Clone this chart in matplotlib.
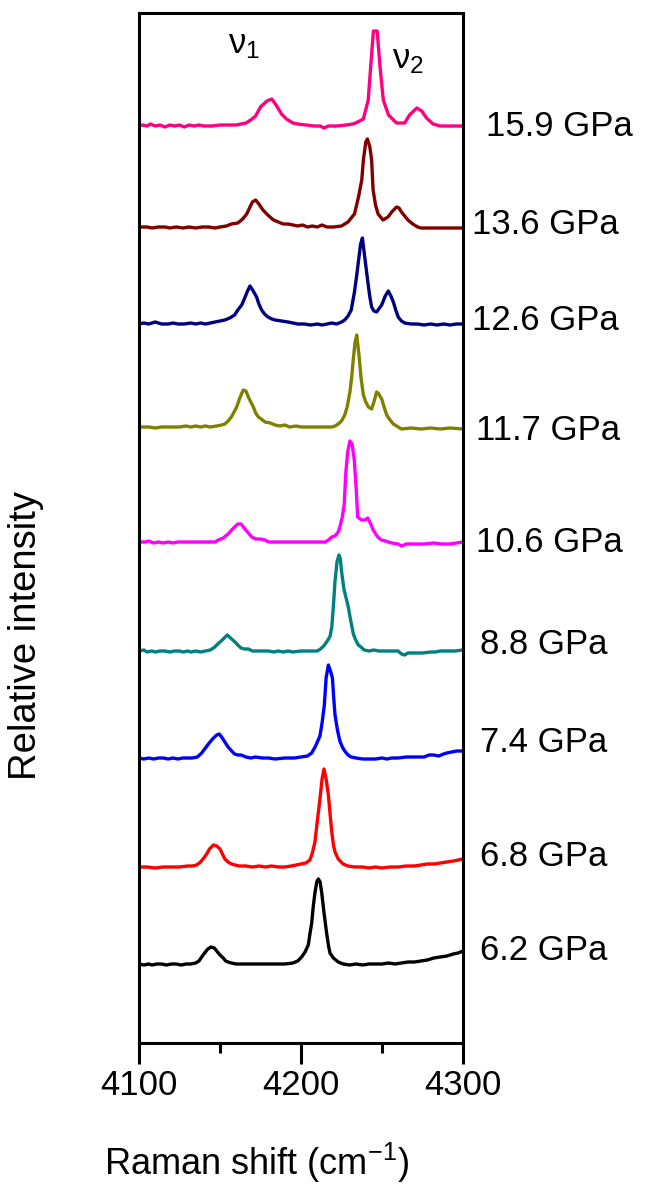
import matplotlib.pyplot as plt

plt.rcParams['font.family'] = ['Liberation Sans', 'DejaVu Sans']
plt.rcParams['mathtext.fontset'] = 'custom'
plt.rcParams['mathtext.rm'] = 'Liberation Sans'
plt.rcParams['mathtext.it'] = 'Liberation Sans:italic'
plt.rcParams['mathtext.default'] = 'regular'

# spectra: (Raman shift cm-1, intensity above the trace's own baseline)
s159 = [(4100, 0), (4102, 1), (4105, 0), (4107, 2), (4110, 0), (4113, 1), (4116, -1), (4119, 1),
        (4122, 0), (4125, 1), (4128, -1), (4131, 1), (4134, 0), (4137, 1), (4140, 0), (4145, 0),
        (4150, 1), (4155, 1), (4160, 1), (4163, 2), (4166, 3), (4169, 6), (4172, 10), (4175, 19),
        (4179, 25), (4182, 27), (4185, 20), (4188, 12), (4191, 7), (4195, 3), (4198, 2), (4203, 1),
        (4208, 0), (4212, 0), (4214, -2), (4217, 0), (4222, 0), (4228, 1), (4232, 2), (4235, 4),
        (4238.5, 7), (4241.5, 26), (4243, 59), (4244.7, 95), (4247, 95), (4248.8, 59), (4250.8, 26),
        (4254, 11), (4259, 3), (4264, 3), (4267, 11), (4271.5, 18), (4274.5, 15), (4277.5, 8),
        (4281.5, 2), (4286, 0), (4292, 0), (4300, 0)]

s136 = [(4100, 0), (4105, 0), (4108, -1), (4112, 0), (4116, 0), (4119, -1), (4123, 0), (4127, -1),
        (4131, 0), (4135, -1), (4139, 0), (4143, 0), (4147, -1), (4150, 0), (4154, 1), (4157, 3),
        (4161, 4), (4164, 8), (4166.5, 13), (4168.5, 20), (4170, 25), (4172, 27), (4174, 23),
        (4176.5, 17), (4179.5, 12), (4183, 7), (4186, 5), (4189, 3), (4192, 3), (4195, 2), (4198, 1),
        (4201, 2), (4204, 0), (4207, 1), (4210, 0), (4213, 2), (4216, 0), (4220, 0), (4225, 1),
        (4229, 5), (4233, 13), (4235.5, 30), (4237.5, 47), (4238.5, 67), (4240, 85), (4241, 88),
        (4242.5, 80), (4243.6, 67), (4244.5, 37), (4246, 22), (4247.6, 13), (4250.6, 7), (4253.7, 10),
        (4256, 15), (4259, 20), (4260.5, 19), (4262, 15), (4264, 11), (4266, 7), (4269, 3), (4272, 0),
        (4274, -1), (4280, -1), (4290, -1), (4300, -1)]

s126 = [(4100, 0), (4103, 1), (4106, 0), (4110, 2), (4114, 0), (4118, 0), (4121, 1), (4124, 0),
        (4128, 0), (4132, 1), (4135, 0), (4138, 1), (4141, 0), (4144, 1), (4147, 2), (4150, 3),
        (4153, 4), (4156, 6), (4159, 9), (4161, 14), (4163.4, 19), (4165, 25), (4167, 33), (4168.5, 38),
        (4170.5, 33), (4172.6, 27), (4174, 20), (4175.7, 14), (4177.5, 10), (4179.6, 7), (4182, 5),
        (4184, 4), (4188, 3), (4192, 2), (4195, 1), (4198, 0), (4202, 0), (4206, -1), (4210, 0),
        (4213, -1), (4216, 0), (4219, 1), (4222, 0), (4225, 2), (4227, 4), (4229, 8), (4231, 14),
        (4233, 32), (4234.5, 50), (4235.4, 62), (4236.8, 80), (4237.9, 86), (4239.5, 65), (4240.5, 52),
        (4241.5, 39), (4242.5, 27), (4243.6, 17), (4245, 13), (4246.7, 12), (4248, 15), (4249.8, 19),
        (4252, 28), (4253.9, 33), (4255.5, 28), (4257, 22), (4258.5, 14), (4260, 7), (4262, 3),
        (4264, 1), (4268, 0), (4272, 0), (4276, -1), (4280, 0), (4284, -1), (4288, 0), (4292, -1),
        (4296, 0), (4300, 0)]

s117 = [(4100, 0), (4106, 0), (4110, -1), (4114, 0), (4120, 0), (4125, 0), (4129, 1), (4132, 0),
        (4135, 1), (4138, 0), (4141, 1), (4144, 0), (4148, 1), (4151, 2), (4153, 3), (4155, 6),
        (4157, 10), (4159, 16), (4160.3, 20), (4162, 28), (4163.5, 34), (4164.4, 37), (4166, 36),
        (4167.5, 30), (4169, 25), (4170.6, 20), (4172, 14), (4173.7, 10), (4175.5, 8), (4177.8, 5),
        (4181, 4), (4184, 2), (4187, 1), (4190, 2), (4193, 0), (4197, 1), (4200, 0), (4205, 0),
        (4210, 0), (4215, 0), (4219, 0), (4221, 1), (4223, 3), (4225, 6), (4227, 12), (4228.5, 20),
        (4230.2, 35), (4231.3, 50), (4232.3, 68), (4233.4, 85), (4234.4, 92), (4235.8, 72), (4237, 50),
        (4238.5, 32), (4240, 25), (4241.6, 20), (4243.6, 18), (4245, 25), (4246.7, 35), (4248, 33),
        (4249.8, 28), (4251.3, 20), (4252.9, 12), (4255, 7), (4257, 3), (4260, 0), (4262, -2),
        (4268, -1), (4274, -2), (4280, -1), (4286, -2), (4292, -1), (4300, -2)]

s106 = [(4100, 0), (4104, 0), (4106, 1), (4109, -1), (4112, 0), (4115, -1), (4118, 0), (4121, -1),
        (4124, 0), (4128, 0), (4135, 0), (4142, 0), (4147, 0), (4149, 2), (4152, 4), (4155, 8),
        (4157.2, 12), (4159, 15), (4161, 18), (4163, 18), (4165.4, 13), (4167, 10), (4169.6, 5),
        (4172, 3), (4175, 3), (4177.8, 2), (4180, 0), (4186, 0), (4195, 0), (4205, 0), (4212, 0),
        (4215, 0), (4217, 2), (4219, 5), (4221, 6), (4223, 10), (4224, 15), (4225.5, 25), (4226.7, 38),
        (4227.6, 68), (4228.8, 90), (4230.2, 101), (4231.5, 98), (4232.9, 82), (4234, 55), (4235, 25),
        (4237.4, 22), (4239.5, 22), (4241.2, 24), (4242.5, 20), (4244.6, 12), (4246.5, 7), (4248, 4),
        (4249.8, 2), (4252, 1), (4256, -1), (4260, -2), (4262, -4), (4265, -2), (4270, -2), (4276, -2),
        (4282, -1), (4287, -2), (4292, -2), (4296, -1), (4300, 0)]

s88 = [(4100, 0), (4103, 1), (4105, -1), (4108, 0), (4110, -1), (4113, 0), (4116, 0), (4119, -1),
       (4122, 0), (4125, 0), (4127, -1), (4130, 0), (4132, -1), (4135, 0), (4138, -1), (4141, 0),
       (4144, 1), (4146, 3), (4148, 6), (4150, 9), (4152, 12), (4154.5, 16), (4156.5, 13), (4159.3, 9),
       (4161, 6), (4163, 3), (4165, 2), (4167.5, 2), (4170, 0), (4175, 0), (4180, 0), (4183, -1),
       (4186, 0), (4189, -1), (4192, 0), (4195, -1), (4200, 0), (4205, 0), (4210, 0), (4212, 2),
       (4214, 5), (4215.8, 9), (4217, 12), (4218, 15), (4219, 24), (4220, 45), (4221, 70), (4222.3, 90),
       (4223.5, 96), (4224.3, 92), (4225, 80), (4226.5, 62), (4228, 52), (4229.2, 44), (4230.5, 32),
       (4232.3, 17), (4233.5, 12), (4235.4, 6), (4237, 4), (4239, 1), (4242, 0), (4245, 1), (4248, 0),
       (4252, 0), (4256, 0), (4260, 0), (4262, -3), (4264, -4), (4266, -2), (4270, -2), (4275, -2),
       (4280, -1), (4283, -1), (4286, 0), (4290, 0), (4295, 0), (4300, 1)]

s74 = [(4100, 0), (4103, -1), (4106, 0), (4109, -1), (4112, 0), (4115, 0), (4118, -1), (4121, 0),
       (4124, -1), (4127, 0), (4130, 0), (4133, 0), (4136, 1), (4138.7, 5), (4141, 10), (4143.8, 16),
       (4146, 20), (4148, 23), (4149.5, 24), (4151, 21), (4153, 16), (4155, 11), (4157.2, 7), (4159, 4),
       (4161, 3), (4163, 3), (4166, 1), (4169, 0), (4172, 1), (4176, 0), (4180, 0), (4184, -1),
       (4190, 0), (4196, 0), (4200, 1), (4204, 2), (4206.6, 5), (4209, 12), (4211.7, 22), (4213, 35),
       (4214.4, 53), (4215.5, 80), (4216.9, 93), (4218, 88), (4219.4, 80), (4220.2, 60), (4221, 43),
       (4222.5, 28), (4224, 17), (4225.5, 11), (4227, 7), (4229, 3), (4231, 1), (4234, 0), (4238, -1),
       (4242, -1), (4246, -1), (4250, 0), (4253, -1), (4256, 0), (4260, 0), (4265, 1), (4270, 1),
       (4276, 1), (4279, 3), (4282, 3), (4285, 2), (4288, 4), (4290, 5), (4293, 6), (4296, 7),
       (4300, 7)]

s68 = [(4100, 0), (4105, 0), (4110, -1), (4115, 0), (4120, 0), (4125, 0), (4130, 1), (4133, 1),
       (4135.6, 2), (4138, 5), (4140, 9), (4141.8, 13), (4143.5, 18), (4145.9, 22), (4148, 21),
       (4150, 18), (4151.5, 13), (4153, 8), (4155, 5), (4157, 3), (4159.3, 2), (4162, 1), (4166, 1),
       (4170, 0), (4174, 1), (4178, 0), (4182, 1), (4186, 0), (4190, 0), (4194, 1), (4197, 2),
       (4200, 3), (4203, 4), (4205.5, 7), (4207, 14), (4208.6, 25), (4210, 45), (4211.7, 68),
       (4213, 88), (4214.2, 98), (4215.5, 88), (4216.9, 72), (4218, 52), (4219, 35), (4220, 22),
       (4221, 15), (4223, 8), (4226, 3), (4229, 1), (4233, 0), (4238, 0), (4242, -1), (4246, 0),
       (4250, -1), (4255, 0), (4260, 0), (4265, 1), (4270, 1), (4274, 2), (4278, 3), (4282, 3),
       (4286, 4), (4290, 5), (4294, 6), (4297, 7), (4300, 8)]

s62 = [(4100, 0), (4103, -1), (4106, 0), (4108, -1), (4111, 0), (4114, 0), (4117, -1), (4120, 0),
       (4123, 0), (4126, -1), (4129, 0), (4132, 0), (4135, 1), (4137, 3), (4138.7, 7), (4140.5, 11),
       (4142.5, 15), (4144.4, 17), (4146.5, 16), (4148, 13), (4150, 9), (4152, 6), (4153.5, 3),
       (4155, 2), (4157, 1), (4160, 0), (4165, 0), (4170, 0), (4175, 0), (4180, 0), (4185, 0),
       (4190, 0), (4195, 1), (4198, 3), (4200.4, 7), (4202.5, 12), (4204.5, 19), (4205.5, 30),
       (4206.6, 41), (4207.6, 58), (4208.6, 71), (4209.7, 82), (4210.7, 85), (4211.8, 82),
       (4212.8, 71), (4214.3, 50), (4215.8, 31), (4217, 18), (4217.9, 11), (4220, 6), (4223, 2),
       (4226, 0), (4230, -1), (4234, 0), (4238, -1), (4242, 0), (4246, 0), (4250, 0), (4254, 1),
       (4258, 0), (4262, 1), (4266, 2), (4270, 2), (4274, 3), (4278, 4), (4282, 6), (4286, 7),
       (4290, 8), (4294, 10), (4297, 11), (4300, 13)]

spectra = [s159, s136, s126, s117, s106, s88, s74, s68, s62]
pressures = ['15.9 GPa', '13.6 GPa', '12.6 GPa', '11.7 GPa', '10.6 GPa',
             '8.8 GPa', '7.4 GPa', '6.8 GPa', '6.2 GPa']
offsets = [917, 816, 719, 616, 501, 392, 285, 176, 79]
colors = ['#FF0080', '#800000', '#000080', '#808000', '#FF00FF',
          '#008080', '#0000FF', '#FF0000', '#000000']

# label placement (wavenumber of left edge, height)
label_x = [4314.5, 4305.5, 4305.5, 4308, 4308, 4310.5, 4310.5, 4310.5, 4310.5]
label_y = [917, 819, 722, 612, 500, 399, 300, 187, 93]

W, H = 646, 1187
fig = plt.figure(figsize=(W / 100, H / 100), dpi=100)
ax = fig.add_axes([139 / W, 1 - 1043 / H, (463 - 139) / W, (1043 - 13) / H])

for s, off, c in zip(spectra, offsets, colors):
    x = [p[0] for p in s]
    y = [p[1] + off for p in s]
    ax.plot(x, y, color=c, lw=2.4, solid_joinstyle='round')

for t, lx, ly in zip(pressures, label_x, label_y):
    ax.text(lx, ly, t, fontsize=25, ha='left', va='center', clip_on=False)

ax.text(4155, 990, r'ν$_1$', fontsize=25, ha='left', va='baseline')
ax.text(4256, 975, r'ν$_2$', fontsize=25, ha='left', va='baseline')

ax.set_xlim(4100, 4300)
ax.set_ylim(0, 1030)
ax.set_yticks([])
ax.set_xticks([4100, 4200, 4300])
ax.set_xticks([4150, 4250], minor=True)
ax.tick_params(axis='x', which='major', direction='out', length=15, width=2.2,
               labelsize=25, pad=4)
ax.tick_params(axis='x', which='minor', direction='out', length=7, width=2.2)
for sp in ax.spines.values():
    sp.set_linewidth(2.2)

fig.text(257 / W, 1 - 1175 / H, r'Raman shift (cm$^{-1}$)', fontsize=26,
         ha='center', va='baseline')
fig.text(26 / W, 1 - 635 / H, 'Relative intensity', fontsize=27.5,
         rotation=90, ha='center', va='center')

fig.savefig('out.png', dpi=100)
